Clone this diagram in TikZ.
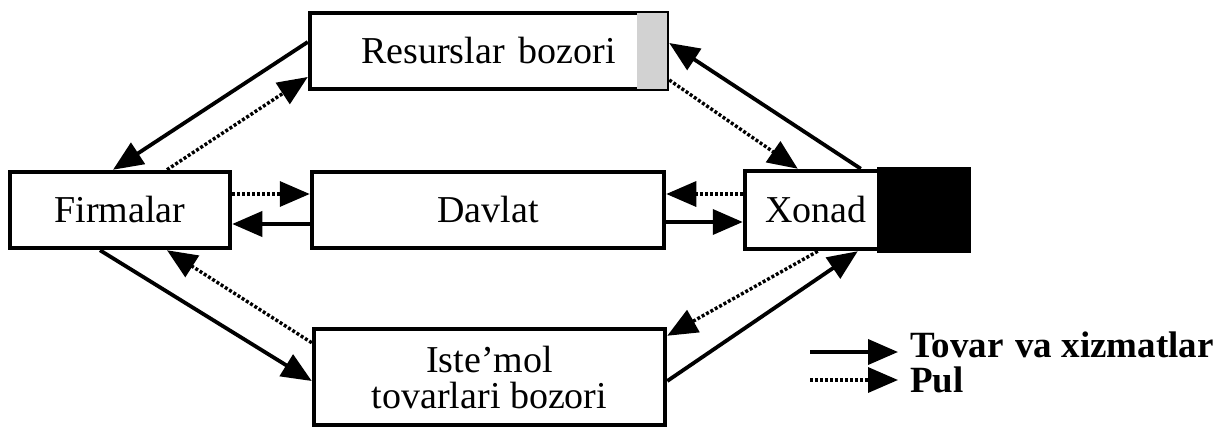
\documentclass[tikz,border=0pt]{standalone}
\usepackage{fontspec}
\setmainfont{Liberation Serif}
\usetikzlibrary{arrows.meta,calc}
\begin{document}
\begin{tikzpicture}[x=1pt,y=1pt,
  box/.style={draw, line width=4.5pt, inner sep=0pt, font=\fontsize{38}{36}\selectfont},
  goods/.style={line width=3.8pt, -{Triangle[length=30pt,width=25pt]}},
  money/.style={line width=3.4pt, dash pattern=on 3pt off 2pt, -{Triangle[length=30pt,width=25pt]}},
  legtext/.style={anchor=base west, inner sep=0pt, font=\fontsize{37}{36}\selectfont\bfseries}
]
\useasboundingbox (0,0) rectangle (1225,-428);
% nodes
\node[box, minimum width=357, minimum height=76] (res) at (488.5,-51) {Resurslar\hspace{14pt}bozori};
\fill[gray!35] ($(res.north east)+(-32,-2.5)$) rectangle ($(res.south east)+(-2.5,2.5)$);
\node[box, minimum width=220, minimum height=76] (firm) at (120,-210) {Firmalar};
\node[box, minimum width=352, minimum height=76] (dav) at (488,-210) {Davlat};
\node[box, minimum width=224, minimum height=78, text width=184, align=left] (xon) at (857,-210) {Xonad};
\fill[black] ($(xon.north east)+(-94,2)$) rectangle ($(xon.south east)+(0,-2)$);
\node[box, minimum width=351, minimum height=96, align=center] (ist) at (489.5,-377) {Iste’mol\\tovarlari bozori};
% connectors: top
\draw[goods] ($(res.west)+(0,9)$) -- ($(firm.north)+(-7,0)$);
\draw[money] ($(firm.north)+(47,0)$) -- ($(res.west)+(0,-26)$);
\draw[money] ($(res.east)+(0,-29)$) -- ($(xon.north west)+(55,0)$);
\draw[goods] ($(xon.north west)+(118,0)$) -- ($(res.east)+(0,8)$);
% middle
\draw[money] ($(firm.east)+(0,16)$) -- ($(dav.west)+(0,16)$);
\draw[goods] ($(dav.west)+(0,-14)$) -- ($(firm.east)+(0,-14)$);
\draw[money] ($(xon.west)+(0,16)$) -- ($(dav.east)+(0,16)$);
\draw[goods] ($(dav.east)+(0,-12)$) -- ($(xon.west)+(0,-12)$);
% bottom
\draw[goods] ($(firm.south)+(-20,0)$) -- ($(ist.west)+(0,-4)$);
\draw[money] ($(ist.north west)+(0,-16)$) -- ($(firm.south)+(47,0)$);
\draw[goods] ($(ist.east)+(0,-4)$) -- ($(xon.south west)+(115,0)$);
\draw[money] ($(xon.south west)+(75,0)$) -- ($(ist.north east)+(0,-9)$);
% legend
\coordinate (l1s) at (810,-352);
\coordinate (l1e) at (898,-352);
\coordinate (l2s) at (810,-380);
\coordinate (l2e) at (898,-380);
\draw[goods] (l1s) -- (l1e);
\draw[money] (l2s) -- (l2e);
\node[legtext] (t1) at (910,-357) {Tovar\hspace{12pt}va xizmatlar};
\node[legtext] (t2) at (910,-392) {Pul};
\end{tikzpicture}
\end{document}
